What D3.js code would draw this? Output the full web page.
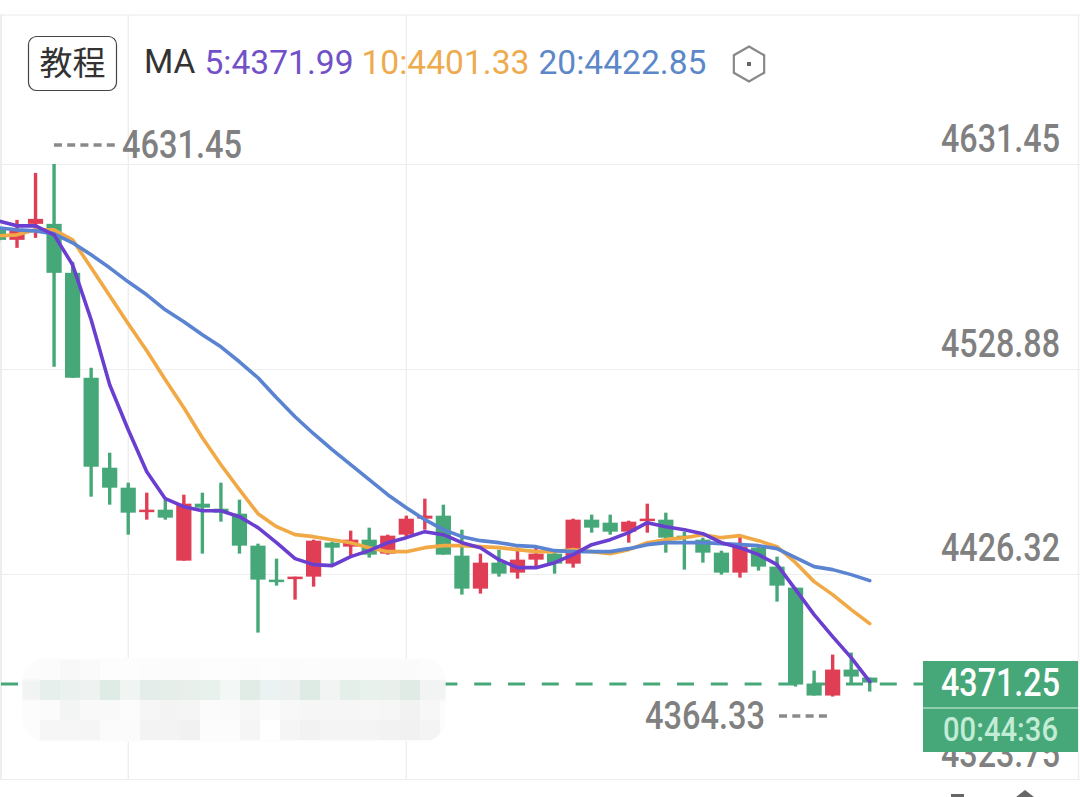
<!DOCTYPE html>
<html><head><meta charset="utf-8">
<script src="https://cdn.jsdelivr.net/npm/d3@7/dist/d3.min.js"></script>
<style>html,body{margin:0;padding:0;background:#fff;overflow:hidden}svg{display:block}</style>
</head><body><svg id="c" width="1080" height="797"></svg>
<script>
const opens=[4599.5,4593.5,4601.5,4601.5,4577,4524.5,4479.5,4469.5,4457.5,4458.5,4433,4461.5,4459,4456.5,4440.5,4423.5,4424,4425,4442,4440,4443.5,4436.5,4446,4454,4455.5,4435.5,4419,4432,4427,4433.5,4436.5,4431.5,4453.5,4452,4447.5,4453,4453.5,4445.5,4443.5,4437,4427,4439.5,4430,4419.5,4371.5,4365.5,4378.5,4374.5];
const closes=[4593.5,4598.5,4604,4577,4524.5,4480,4469.5,4457,4458.5,4454.5,4461.5,4459.5,4457,4440.5,4423.5,4422.5,4425,4443,4439.5,4443.5,4436,4445.5,4454,4455.5,4436,4419,4432,4426.5,4433.5,4436.5,4431.5,4453.5,4449.5,4447.5,4452.5,4454,4444.5,4444.5,4437,4427,4440,4430,4420.5,4371,4365.5,4378.5,4375,4372];
const highs=[4600.5,4603.5,4627,4631.45,4582.5,4529.5,4487,4472,4467,4463.5,4466,4467,4472,4463.5,4441.5,4434,4425,4443.5,4442.5,4448,4449.5,4446,4455.5,4464,4461,4448.5,4436.5,4438.5,4439.5,4439.5,4437.5,4454,4456,4456,4453,4461.5,4457,4447.5,4444.5,4438,4446,4440,4435,4419.5,4378,4386,4387,4374.5];
const lows=[4592.5,4589.5,4594.5,4530,4524.5,4465,4461,4446,4453.5,4453.5,4433,4436.5,4452.5,4436.5,4397,4420.5,4413.5,4420,4430.5,4435.5,4434.5,4436,4445,4448.5,4436,4416,4416.5,4425,4424,4430,4426.5,4429.5,4447,4446,4442,4447,4437,4428.5,4432,4426,4424.5,4428,4412.5,4370,4365.5,4365,4371,4367.5];
const ma5=[4603,4600.5,4600.5,4596,4581,4553.5,4521,4498.5,4477.5,4464,4460,4458,4458,4455,4449.5,4442,4434,4431,4430.5,4435,4438,4442,4444.5,4447.5,4446,4442,4439.5,4433.5,4429.5,4429.5,4432,4436,4441,4443.5,4447,4452,4450,4448.5,4446.5,4442,4439.5,4436,4431,4418.5,4406,4395,4384.5,4372.5];
const ma10=[4595.5,4596,4598.5,4598.5,4593.5,4579.5,4565.5,4551.5,4538,4523.5,4509.5,4494.5,4481,4468.5,4456.5,4450,4446,4445,4443.5,4442,4439.5,4437.5,4437.5,4439.5,4440.5,4440.5,4440,4439.5,4438.5,4437.5,4437.5,4438.5,4437.5,4436.5,4438.5,4442,4443.5,4444.5,4446,4444.5,4445.5,4443,4440,4432,4422.5,4416,4408.5,4401.5];
const ma20=[4599.5,4598.5,4598,4596.5,4592,4586,4579.5,4572.5,4566,4558.5,4552.5,4546,4540,4532.5,4524.5,4514.5,4505,4496.5,4488.5,4481,4473.5,4466,4459.5,4453.5,4448.5,4445,4443,4442,4440.5,4440,4438,4437.5,4437.5,4437.5,4439,4441,4442,4442,4442,4441.5,4441,4440.5,4439,4434.5,4430,4428.5,4426,4423];
const categories=d3.range(opens.length);
const priceTicks=[4631.45,4528.88,4426.32,4323.75];
const verticalGridAt=[7,22];
const lastPrice=4371.25, highLabel=4631.45, lowLabel=4364.33, countdown="00:44:36";
const maLegend=[["5:4371.99","#7150c8",204.5],["10:4401.33","#eeab4e",361.5],["20:4422.85","#5c88c9",538.5]];
const GREEN="#46a878",RED="#e03e55",GREY="#808080",NUM="Roboto,sans-serif";

const svg=d3.select("#c");
const y=d3.scaleLinear().domain([4323.75,4631.45]).range([779,164]);
const x=d3.scaleBand().domain(categories).range([-10.81,879]).paddingInner(0.18).paddingOuter(0.09);
const cx=i=>x(i)+x.bandwidth()/2;

// frame + grid
svg.append("line").attr("x1",0).attr("x2",1080).attr("y1",15).attr("y2",15).attr("stroke","#f2f2f2").attr("stroke-width",1.5);
svg.append("line").attr("x1",1).attr("x2",1).attr("y1",15).attr("y2",779).attr("stroke","#e8e8e8").attr("stroke-width",1.5);
svg.append("line").attr("x1",1078.5).attr("x2",1078.5).attr("y1",15).attr("y2",779).attr("stroke","#f0f0f0").attr("stroke-width",1.5);
svg.selectAll(".vg").data(verticalGridAt).join("line").attr("x1",cx).attr("x2",cx).attr("y1",15).attr("y2",779).attr("stroke","#e8e8e8").attr("stroke-width",1);
const ax=svg.append("g").attr("transform","translate(1080,0)")
  .call(d3.axisLeft(y).tickValues(priceTicks).tickSize(1080).tickFormat(d3.format(".2f")));
ax.select(".domain").remove();
ax.selectAll("line").attr("stroke","#eeeeee").attr("stroke-width",1.2);
ax.selectAll("text").attr("x",-20).attr("dy",-13).attr("text-anchor","end").attr("fill",GREY)
  .attr("font-family",NUM).attr("font-size",38).attr("font-weight",500)
  .attr("textLength",119).attr("lengthAdjust","spacingAndGlyphs");

// last price dashed line
svg.append("line").attr("x1",1).attr("x2",923).attr("y1",y(lastPrice)).attr("y2",y(lastPrice))
  .attr("stroke",GREEN).attr("stroke-width",3).attr("stroke-dasharray","17 16.8");

// candles
const col=i=>closes[i]>=opens[i]?RED:GREEN;
svg.append("g").selectAll("line").data(categories).join("line")
  .attr("x1",cx).attr("x2",cx).attr("y1",i=>y(highs[i])).attr("y2",i=>y(lows[i]))
  .attr("stroke",col).attr("stroke-width",3.4);
svg.append("g").selectAll("rect").data(categories).join("rect")
  .attr("x",i=>x(i)).attr("width",x.bandwidth())
  .attr("y",i=>y(Math.max(opens[i],closes[i])))
  .attr("height",i=>Math.max(2.5,Math.abs(y(opens[i])-y(closes[i]))))
  .attr("fill",col);

// moving averages
const line=d3.line().x((d,i)=>cx(i)).y(d=>y(d)).curve(d3.curveLinear);
[[ma10,"#f0a945"],[ma20,"#5a83d2"],[ma5,"#6a3fd0"]].forEach(([s,c])=>{
  svg.append("path").attr("d",line(s)).attr("fill","none").attr("stroke",c).attr("stroke-width",3.6).attr("stroke-linejoin","round").attr("stroke-linecap","round");
});

// redaction smudge
const defs=svg.append("defs");
defs.append("clipPath").attr("id","smudge").append("rect").attr("x",22).attr("y",658).attr("width",424).attr("height",84).attr("rx",24);
defs.append("filter").attr("id","soft").append("feGaussianBlur").attr("stdDeviation",1.2);
const smudgeRows=[
 [660,["#fbfbfb","#f8f8f8","#fafafa","#fdfdfd","#fdfdfd","#fcfcfc","#fbfbfb","#fbfbfb","#fdfdfd","#fdfdfd","#fcfcfc","#fdfdfd","#fbfbfb","#fcfcfc","#fbfbfb","#fbfbfb","#fbfbfb","#fbfbfb","#fafafa","#fcfcfc"]],
 [680,["#e6efeb","#ebf1ee","#eef2f0","#dfebe5","#f0f5f3","#e4ede9","#e6eeea","#e9f0ec","#e9f1ed","#f3f7f6","#e2ece7","#eaf3f1","#ecf1ef","#deeae4","#f2f4f3","#e5efea","#e9f1ec","#e9f0ec","#e0ebe5","#f2f4f3"]],
 [700,["#fbfbfb","#f3f5f4","#f9f9f9","#f9f9f9","#fcfcfc","#f6f6f6","#f3f3f3","#f5f5f5","#fbfbfb","#fafafa","#f7f7f7","#fbfbfb","#f8f8f8","#f6f6f6","#f6f6f6","#f6f6f6","#f7f7f7","#f6f6f6","#f2f2f2","#f7f7f7"]],
 [720,["#f6f6f6","#f6f6f6","#f5f5f5","#fbfbfb","#fbfbfb","#f3f3f3","#f3f3f3","#f1f1f1","#fcfcfc","#fcfcfc","#f5f5f5","#ffffff","#f5f5f5","#f2f2f2","#f4f4f4","#f4f4f4","#f4f4f4","#f2f2f2","#f1f1f1","#f4f4f4"]]];
const sm=svg.append("g").attr("clip-path","url(#smudge)");
const smBase=sm.append("g").attr("filter","url(#soft)");
smBase.append("rect").attr("x",22).attr("y",658).attr("width",424).attr("height",84).attr("fill","#fcfcfc");
smBase.append("rect").attr("x",22).attr("y",680).attr("width",424).attr("height",20).attr("fill","#f1f4f2");
smudgeRows.forEach(([ry,cells])=>{
  sm.append("g").selectAll("rect").data(cells).join("rect").attr("x",(d,i)=>40+i*20).attr("y",ry).attr("width",20).attr("height",20).attr("fill",d=>d);
});

// high/low annotations
const num=(sel,size,w)=>sel.attr("font-family",NUM).attr("font-size",size).attr("font-weight",500).attr("textLength",w).attr("lengthAdjust","spacingAndGlyphs");
svg.append("line").attr("x1",54).attr("x2",115).attr("y1",145).attr("y2",145).attr("stroke","#8a8a8a").attr("stroke-width",3.4).attr("stroke-dasharray","8 5.2");
svg.append("text").text(highLabel.toFixed(2)).attr("x",122).attr("y",158).attr("fill",GREY).call(num,38,120);
svg.append("text").text(lowLabel.toFixed(2)).attr("x",645).attr("y",729).attr("fill",GREY).call(num,38,120);
svg.append("line").attr("x1",779).attr("x2",827).attr("y1",716).attr("y2",716).attr("stroke","#8a8a8a").attr("stroke-width",3.4).attr("stroke-dasharray","8 5.3");

// last price box
svg.append("rect").attr("x",923).attr("y",661).attr("width",155).attr("height",91).attr("fill",GREEN);
svg.append("line").attr("x1",923).attr("x2",1078).attr("y1",708).attr("y2",708).attr("stroke","#a9dcc2").attr("stroke-width",1.5);
svg.append("text").text(lastPrice.toFixed(2)).attr("x",941).attr("y",696).attr("fill","#fff").call(num,38,119);
svg.append("text").text(countdown).attr("x",943).attr("y",741).attr("fill","#c2ecd6").call(num,33,115);

// header
svg.append("rect").attr("x",28.5).attr("y",36.5).attr("width",88).attr("height",54).attr("rx",8).attr("fill","#fff").attr("stroke","#444").attr("stroke-width",1.2);
svg.append("text").text("教程").attr("x",72.5).attr("y",75).attr("text-anchor","middle").attr("fill","#333").attr("font-family","'Noto Sans CJK SC'").attr("font-size",33);
svg.append("text").text("MA").attr("x",144).attr("y",73).attr("fill","#333").attr("font-family",NUM).attr("font-size",33.5);
svg.selectAll(".leg").data(maLegend).join("text").text(d=>d[0]).attr("x",d=>d[2]).attr("y",73.5).attr("fill",d=>d[1]).attr("font-family",NUM).attr("font-size",33.6);
const hex=d3.range(6).map(k=>{const a=Math.PI/3*k-Math.PI/2;return [749+17.5*Math.cos(a),64+17.5*Math.sin(a)];});
svg.append("path").attr("d",d3.line()(hex)+"Z").attr("fill","none").attr("stroke","#888").attr("stroke-width",2.2);
svg.append("rect").attr("x",747).attr("y",62).attr("width",4).attr("height",4).attr("fill","#666");

// cropped toolbar icons at bottom edge
svg.append("rect").attr("x",951).attr("y",794).attr("width",13).attr("height",3).attr("fill","#666");
svg.append("path").attr("d",d3.line()([[1016,797],[1025,790],[1034,797]])+"Z").attr("fill","#666");
</script></body></html>
